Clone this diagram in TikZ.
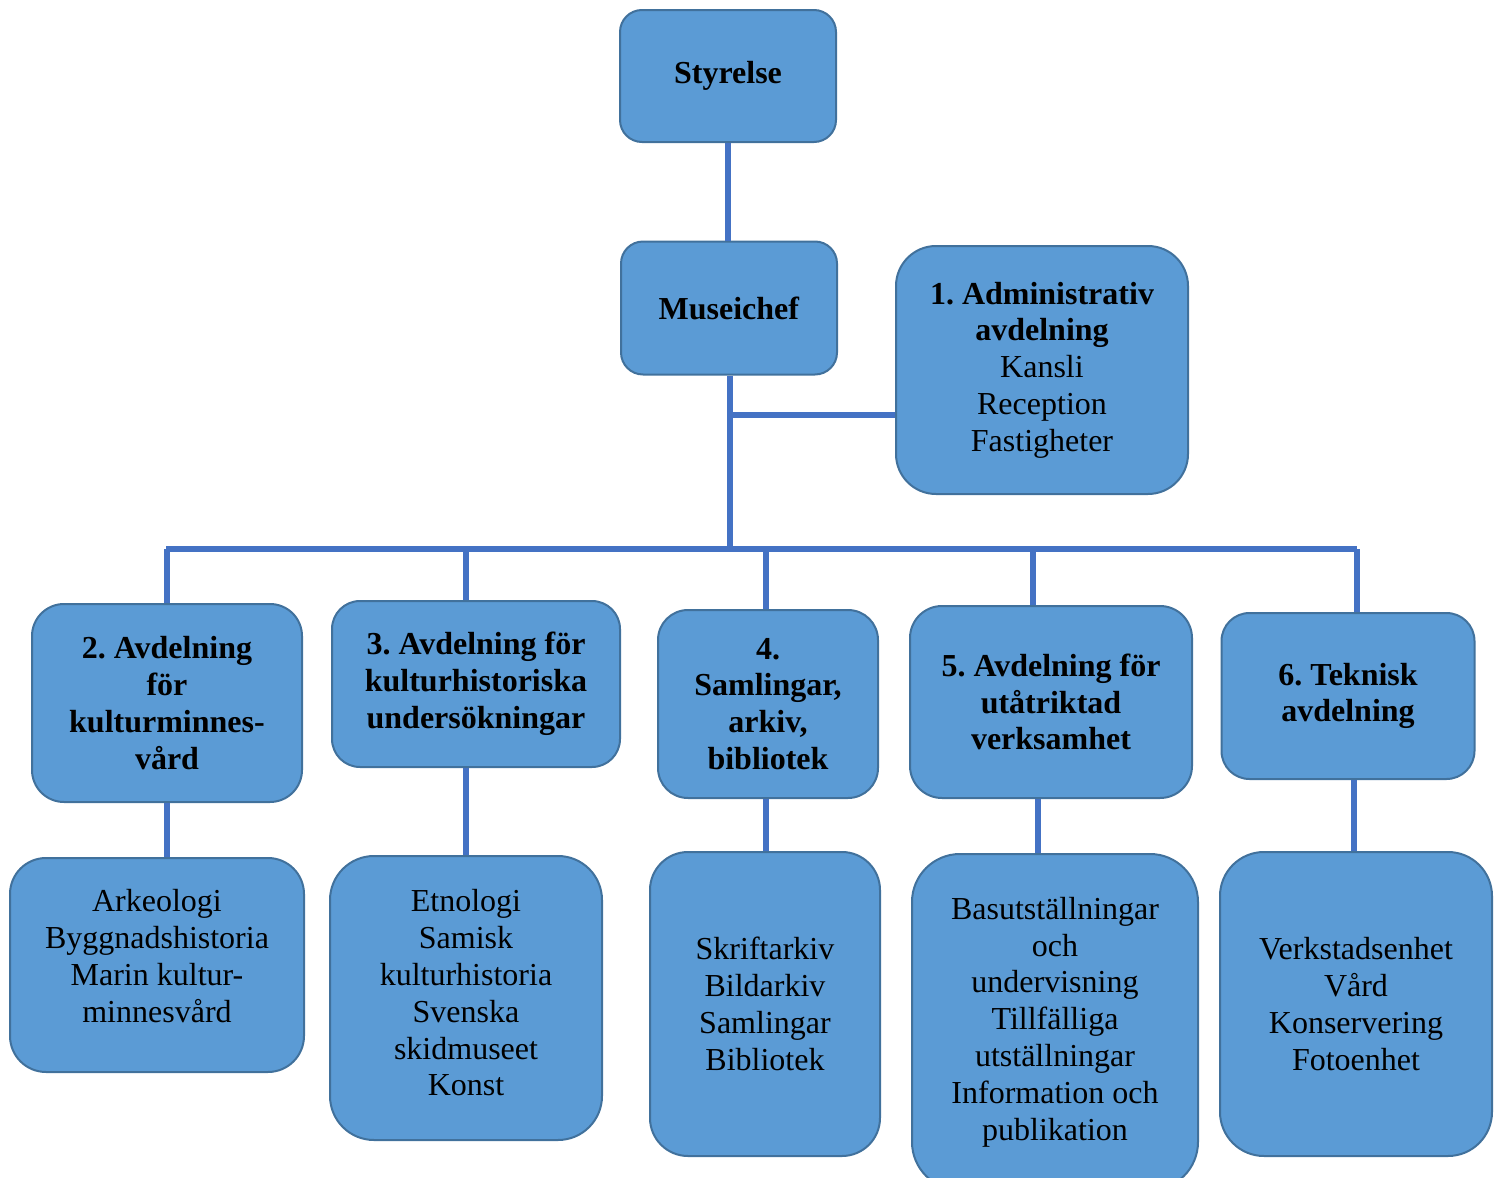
\documentclass[tikz,border=0pt]{standalone}
\usepackage{fontspec}
\setmainfont{Liberation Serif}
\frenchspacing
\definecolor{boxfill}{HTML}{5B9BD5}
\definecolor{boxline}{HTML}{41719C}
\definecolor{linkline}{HTML}{4472C4}
\tikzset{
	unit/.style={draw=boxline, fill=boxfill, line width=1pt, align=center, inner sep=0pt, font=\fontsize{16}{18.4}\selectfont},
	unittext/.style={align=center, inner sep=0pt, font=\fontsize{16}{18.4}\selectfont},
	link/.style={draw=linkline, line width=3pt},
}

\begin{document}
\begin{tikzpicture}[x=0.5pt,y=-0.5pt]
	%\draw[help lines] (0,0) grid[step=100] (1500,1178);
	\useasboundingbox (0,0) rectangle (1500,1178);
	\node[unit, minimum width=108pt, minimum height=66pt, rounded corners=11pt] (sty) at (728,76) {\textbf{Styrelse}};
	\node[unit, minimum width=108pt, minimum height=66.5pt, rounded corners=11pt] (chef) at (729,308) {\textbf{Museichef}};
	\node[unit, minimum width=146pt, minimum height=124pt, rounded corners=20pt] (adm) at (1042,370) {\textbf{1. Administrativ}\\\textbf{avdelning}\\Kansli\\Reception\\Fastigheter};
	% avdelningar
	\node[unit, minimum width=135pt, minimum height=99pt, rounded corners=16pt] (b2) at (167,703) {\textbf{2. Avdelning}\\\textbf{för}\\\textbf{kulturminnes-}\\\textbf{vård}};
	\node[unit, minimum width=144pt, minimum height=83pt, rounded corners=14pt] (b3) at (476,684) {\textbf{3. Avdelning för}\\\textbf{kulturhistoriska}\\\textbf{undersökningar}};
	\node[unit, minimum width=110pt, minimum height=94pt, rounded corners=15pt] (b4) at (768,704) {\textbf{4.}\\\textbf{Samlingar,}\\\textbf{arkiv,}\\\textbf{bibliotek}};
	\node[unit, minimum width=141pt, minimum height=96pt, rounded corners=16pt] (b5) at (1051,702) {\textbf{5. Avdelning för}\\\textbf{utåtriktad}\\\textbf{verksamhet}};
	\node[unit, minimum width=126.5pt, minimum height=83pt, rounded corners=14pt] (b6) at (1348,696) {\textbf{6. Teknisk}\\\textbf{avdelning}};
	% enheter
	\node[unit, minimum width=147pt, minimum height=107pt, rounded corners=18pt] (c2) at (157,965) {};
	\node[unittext] (c2t) at (157,956) {Arkeologi\\Byggnadshistoria\\Marin kultur-\\minnesvård};
	\node[unit, minimum width=136pt, minimum height=142pt, rounded corners=22pt] (c3) at (466,998) {};
	\node[unittext] (c3t) at (466,993) {Etnologi\\Samisk\\kulturhistoria\\Svenska\\skidmuseet\\Konst};
	\node[unit, minimum width=115pt, minimum height=152pt, rounded corners=19pt] (c4) at (765,1004) {Skriftarkiv\\Bildarkiv\\Samlingar\\Bibliotek};
	\node[unit, minimum width=143pt, minimum height=168pt, rounded corners=24pt] (c5) at (1055,1022) {Basutställningar\\och\\undervisning\\Tillfälliga\\utställningar\\Information och\\publikation};
	\node[unit, minimum width=136pt, minimum height=152pt, rounded corners=22pt] (c6) at (1356,1004) {Verkstadsenhet\\Vård\\Konservering\\Fotoenhet};
	% linjer
	\coordinate (jadm) at (730,415);
	\coordinate (busL) at (166,549);
	\coordinate (busR) at (1357,549);
	\draw[link] (sty.south) -- (sty.south |- chef.north);
	\draw[link] (chef.south -| jadm) -- (jadm |- busL);
	\draw[link] (jadm) -- (jadm -| adm.west);
	\draw[link] (busL) -- (busR);
	\foreach \n/\x in {2/167,3/466,4/766,5/1033,6/1357}{
		\coordinate (d\n) at (\x,549);
		\draw[link] (d\n) -- (d\n |- b\n.north);
	}
	\foreach \n/\x in {2/167,3/466,4/766,5/1038,6/1354}{
		\coordinate (e\n) at (\x,0);
		\draw[link] (e\n |- b\n.south) -- (e\n |- c\n.north);
	}
\end{tikzpicture}
\end{document}
